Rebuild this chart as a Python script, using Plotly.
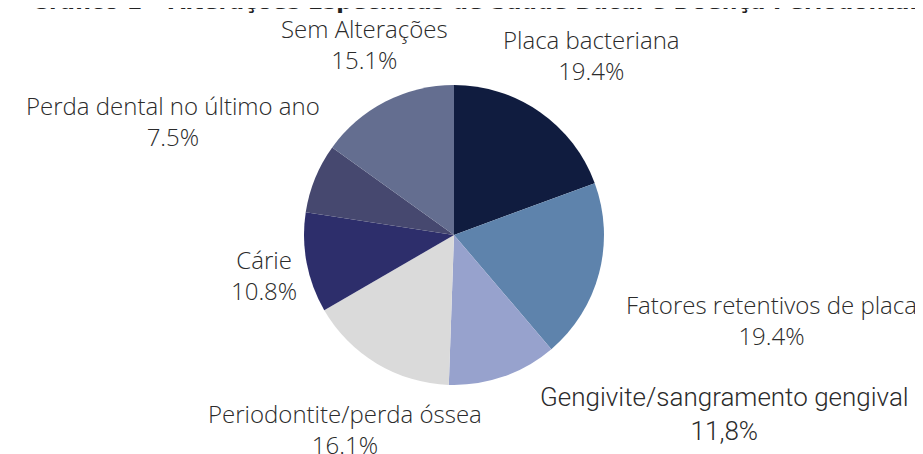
import plotly.graph_objects as go

categories = ["Placa bacteriana", "Fatores retentivos de placa", "Gengivite/sangramento gengival",
              "Periodontite/perda óssea", "Cárie", "Perda dental no último ano", "Sem Alterações"]
values = [19.4, 19.4, 11.8, 16.1, 10.8, 7.5, 15.1]
pct_labels = ["19.4%", "19.4%", "11,8%", "16.1%", "10.8%", "7.5%", "15.1%"]
colors = ["#101c3f", "#5e83ac", "#97a2cd", "#dadada", "#2d2e6b", "#46486f", "#646e90"]
title_text = "Gráfico 1 – Alterações Específicas de Saúde Bucal e Doença Periodontal"

W, H = 923, 454
# pixel centers of each two-line label block
label_pos = [(583, 47), (763, 312), (716, 406), (337, 421), (256, 267), (165, 113), (356, 36)]
label_fonts = [("Open Sans", 24, 300), ("Open Sans", 24, 300), ("Roboto", 26, 300), ("Open Sans", 24, 300),
               ("Open Sans", 24, 300), ("Open Sans", 24, 300), ("Open Sans", 24, 300)]

fig = go.Figure(go.Pie(
    labels=categories, values=values, sort=False, direction="clockwise", rotation=0,
    marker=dict(colors=colors, line=dict(width=0)),
    textinfo="none", hoverinfo="label+value", showlegend=False,
    domain=dict(x=[296 / W, 596 / W], y=[1 - 377 / H, 1 - 77 / H]),
))

annotations = []
for name, pct, (px, py), (fnt, fs, fw) in zip(categories, pct_labels, label_pos, label_fonts):
    annotations.append(dict(
        x=px / W, y=1 - py / H, xref="paper", yref="paper",
        text=name + "<br>" + pct, showarrow=False, xanchor="center", yanchor="middle",
        align="center", font=dict(family=fnt, size=fs, color="#2b2b2b", weight=fw),
    ))
annotations.append(dict(
    x=466 / W, y=1 - 8.5 / H, xref="paper", yref="paper", text="<b>" + title_text + "</b>",
    showarrow=False, xanchor="center", yanchor="bottom",
    font=dict(family="DejaVu Sans", size=22, color="#222"),
))

fig.update_layout(
    width=W, height=H, margin=dict(l=0, r=0, t=0, b=0),
    paper_bgcolor="white", plot_bgcolor="white", annotations=annotations,
)
fig.write_html("out.html")
